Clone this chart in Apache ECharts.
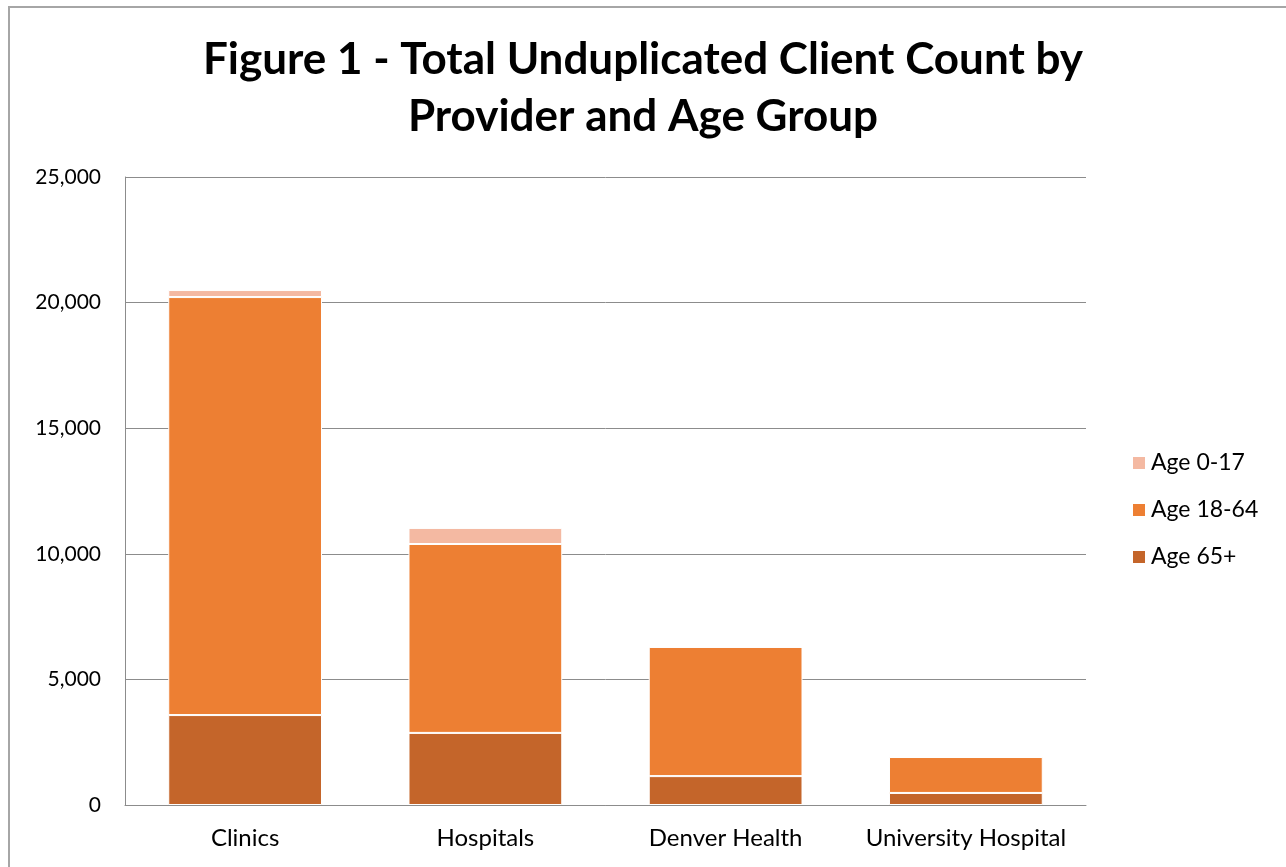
<!DOCTYPE html>
<html>
<head>
<meta charset="utf-8">
<script src="https://cdn.jsdelivr.net/npm/echarts@6/dist/echarts.min.js"></script>
<style>
  html, body { margin: 0; padding: 0; background: #fff; }
  #frame { position: absolute; left: 8px; top: 6px; width: 1290px; height: 870px; border: 2px solid #a6a6a6; box-sizing: border-box; }
  #chart { position: absolute; left: 0; top: 0; width: 1286px; height: 867px; }
</style>
</head>
<body>
<div id="frame"></div>
<div id="chart"></div>
<script>
const providers = ['Clinics', 'Hospitals', 'Denver Health', 'University Hospital'];
const age65plus = [3580, 2870, 1150, 480];
const age18to64 = [16640, 7520, 5140, 1430];
const age0to17 = [280, 640, 20, 10];

const chart = echarts.init(document.getElementById('chart'));
const font = 'Lato, "Open Sans", sans-serif';
const barStyle = color => ({ color: color, borderColor: '#fff', borderWidth: 1 });

chart.setOption({
  animation: false,
  textStyle: { fontFamily: font },
  title: {
    text: 'Figure 1 - Total Unduplicated Client Count by\nProvider and Age Group',
    left: 'center',
    top: 26,
    textStyle: { fontSize: 44, fontWeight: 'bold', color: '#000', lineHeight: 57, fontFamily: font }
  },
  legend: {
    data: ['Age 0-17', 'Age 18-64', 'Age 65+'],
    orient: 'vertical',
    left: 1126,
    top: 446,
    itemWidth: 14,
    itemHeight: 14,
    itemGap: 23,
    icon: 'rect',
    textStyle: { fontSize: 23, color: '#000', lineHeight: 24 }
  },
  grid: { left: 125, right: 200, top: 177, bottom: 62, containLabel: false },
  xAxis: {
    type: 'category',
    data: providers,
    axisLine: { lineStyle: { color: '#8c8c8c', width: 1 } },
    axisTick: { show: false },
    axisLabel: { fontSize: 24, color: '#000', margin: 21, interval: 0 }
  },
  yAxis: {
    type: 'value',
    min: 0,
    max: 25000,
    interval: 5000,
    axisLine: { show: true, lineStyle: { color: '#8c8c8c', width: 1 } },
    axisTick: { show: false },
    splitLine: { lineStyle: { color: '#8c8c8c', width: 1 } },
    axisLabel: {
      fontSize: 21, color: '#000', margin: 24,
      formatter: v => v.toLocaleString('en-US')
    }
  },
  series: [
    { name: 'Age 65+', type: 'bar', stack: 'total', barWidth: '64%', data: age65plus, itemStyle: barStyle('#c4652a') },
    { name: 'Age 18-64', type: 'bar', stack: 'total', data: age18to64, itemStyle: barStyle('#ed7f33') },
    { name: 'Age 0-17', type: 'bar', stack: 'total', data: age0to17, itemStyle: barStyle('#f4b9a2') }
  ]
});
</script>
</body>
</html>
